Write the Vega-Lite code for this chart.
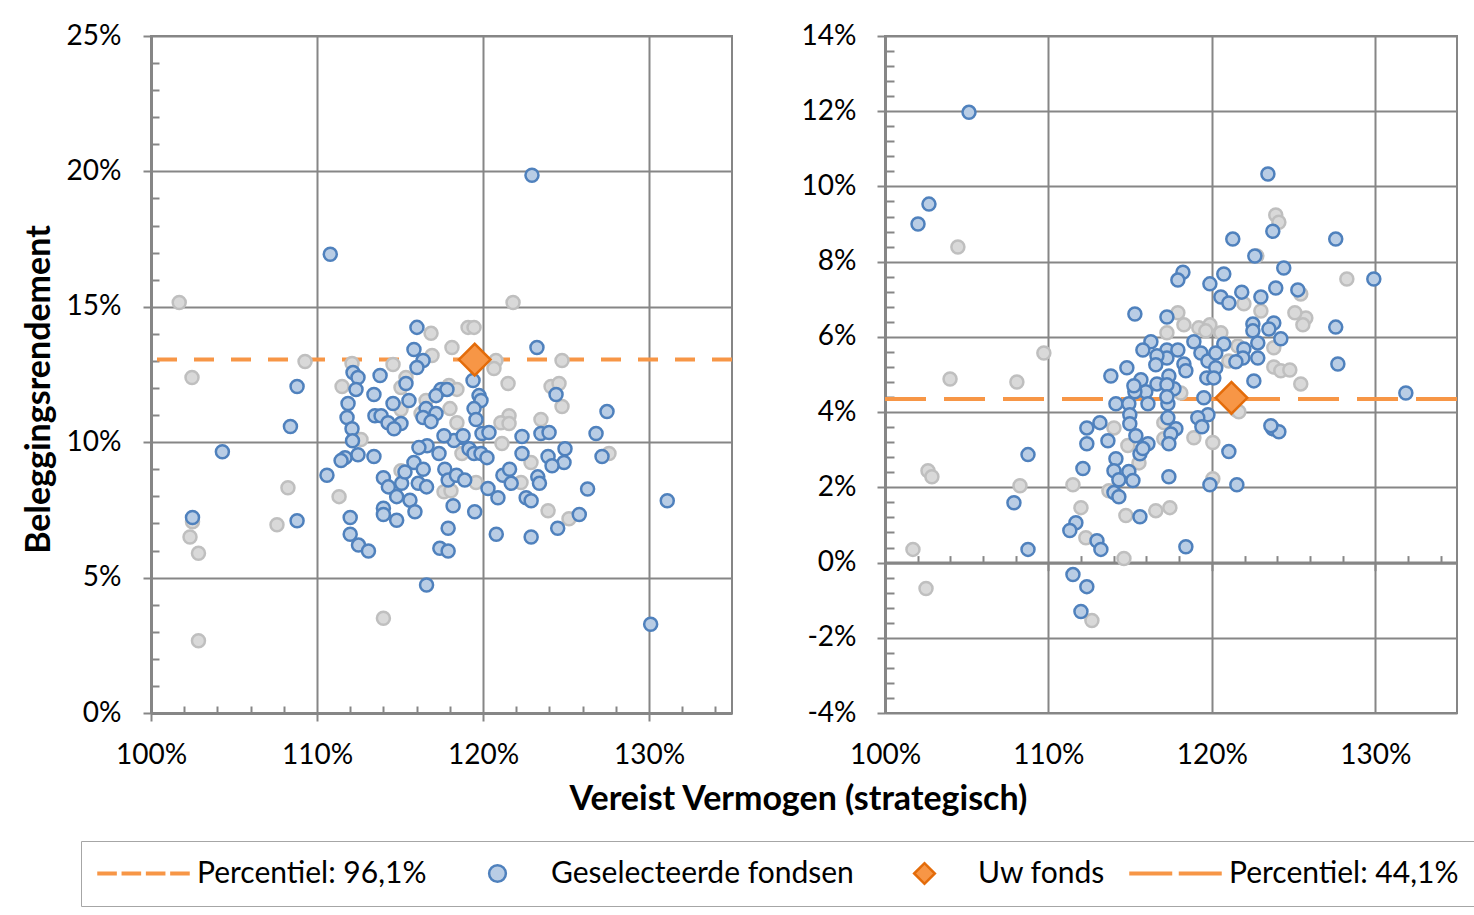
{
  "$schema": "https://vega.github.io/schema/vega-lite/v6.json",
  "padding": {"left": 21, "top": 21, "right": 5, "bottom": 5},
  "background": "#ffffff",
  "bounds": "flush",
  "spacing": 153,
  "config": {
    "font": "Lato",
    "view": {"stroke": "#868686", "strokeWidth": 2},
    "axis": {
      "labelFont": "Lato", "labelFontSize": 28, "labelColor": "#000000",
      "tickColor": "#868686", "tickWidth": 2,
      "domainColor": "#868686", "domainWidth": 3,
      "gridColor": "#868686", "gridWidth": 2,
      "titleFont": "Lato", "titleColor": "#000000",
      "labelFlush": false, "labelOverlap": false
    },
    "legend": {
      "title": null, "orient": "none", "legendX": -70, "legendY": 805,
      "direction": "horizontal", "columns": 4, "symbolSize": 8100, "symbolStrokeWidth": 2.5, "clipHeight": 33,
      "labelFont": "Lato", "labelFontSize": 30, "labelColor": "#000000", "labelOffset": 7, "labelLimit": 600,
      "columnPadding": 24, "padding": 16, "strokeColor": "#a6a6a6", "fillColor": "#ffffff", "symbolOpacity": 1
    }
  },
  "datasets": {
    "leftPct": [{"y": 13.05}],
    "rightPct": [{"y": 4.35}],
    "leftFund": [{"x": 119.5, "y": 13.05}],
    "rightFund": [{"x": 121.2, "y": 4.38}],
    "leftGray": [
      {"x": 101.7, "y": 15.16}, {"x": 102.47, "y": 12.39}, {"x": 109.28, "y": 12.98}, {"x": 112.11, "y": 12.91},
      {"x": 111.51, "y": 12.06}, {"x": 114.58, "y": 12.87}, {"x": 116.87, "y": 14.02}, {"x": 116.93, "y": 13.2},
      {"x": 119.1, "y": 14.24}, {"x": 119.46, "y": 14.24}, {"x": 118.13, "y": 13.5}, {"x": 120.78, "y": 13.02},
      {"x": 120.66, "y": 12.72}, {"x": 124.76, "y": 13.02}, {"x": 121.81, "y": 15.16}, {"x": 121.51, "y": 12.17},
      {"x": 124.1, "y": 12.06}, {"x": 124.58, "y": 12.17}, {"x": 124.76, "y": 11.32}, {"x": 117.95, "y": 12.09},
      {"x": 118.43, "y": 11.95}, {"x": 118.43, "y": 10.72}, {"x": 121.57, "y": 10.98}, {"x": 121.08, "y": 10.72},
      {"x": 123.49, "y": 10.84}, {"x": 121.14, "y": 9.95}, {"x": 122.89, "y": 9.25}, {"x": 127.59, "y": 9.58},
      {"x": 118.73, "y": 9.58}, {"x": 115.06, "y": 12.02}, {"x": 115.36, "y": 12.39}, {"x": 118.01, "y": 11.24},
      {"x": 116.57, "y": 11.54}, {"x": 116.27, "y": 11.06}, {"x": 112.65, "y": 10.1}, {"x": 115.06, "y": 11.21},
      {"x": 108.25, "y": 8.32}, {"x": 107.59, "y": 6.95}, {"x": 111.33, "y": 7.99}, {"x": 115.06, "y": 8.95},
      {"x": 117.65, "y": 8.17}, {"x": 118.07, "y": 8.21}, {"x": 119.58, "y": 8.51}, {"x": 121.57, "y": 10.69},
      {"x": 122.29, "y": 8.51}, {"x": 123.92, "y": 7.47}, {"x": 125.18, "y": 7.17}, {"x": 102.5, "y": 7.06},
      {"x": 102.35, "y": 6.5}, {"x": 102.86, "y": 5.9}, {"x": 114.0, "y": 3.5}, {"x": 102.86, "y": 2.67}
    ],
    "leftBlue": [
      {"x": 110.8, "y": 16.94}, {"x": 122.95, "y": 19.86}, {"x": 123.25, "y": 13.5}, {"x": 108.8, "y": 12.06},
      {"x": 108.4, "y": 10.58}, {"x": 104.3, "y": 9.65}, {"x": 131.1, "y": 7.84}, {"x": 130.1, "y": 3.28},
      {"x": 116.6, "y": 4.73}, {"x": 102.5, "y": 7.22}, {"x": 108.8, "y": 7.1},
      {"x": 116.02, "y": 14.24}, {"x": 115.84, "y": 13.42}, {"x": 116.39, "y": 13.02}, {"x": 116.02, "y": 12.76},
      {"x": 115.36, "y": 12.17}, {"x": 115.54, "y": 11.54}, {"x": 116.57, "y": 11.24}, {"x": 117.17, "y": 11.06},
      {"x": 117.47, "y": 11.95}, {"x": 117.83, "y": 11.95}, {"x": 117.17, "y": 11.72}, {"x": 119.4, "y": 12.28},
      {"x": 119.76, "y": 11.72}, {"x": 119.88, "y": 11.54}, {"x": 119.46, "y": 11.24}, {"x": 119.58, "y": 10.84},
      {"x": 119.94, "y": 10.32}, {"x": 120.36, "y": 10.36}, {"x": 118.73, "y": 10.17}, {"x": 118.25, "y": 10.06},
      {"x": 117.65, "y": 10.24}, {"x": 117.35, "y": 9.58}, {"x": 116.63, "y": 9.87}, {"x": 116.14, "y": 9.8},
      {"x": 115.84, "y": 9.25}, {"x": 119.16, "y": 9.76}, {"x": 119.46, "y": 9.58}, {"x": 119.88, "y": 9.58},
      {"x": 120.24, "y": 9.43}, {"x": 122.35, "y": 10.21}, {"x": 123.49, "y": 10.32}, {"x": 123.98, "y": 10.36},
      {"x": 124.4, "y": 11.76}, {"x": 127.47, "y": 11.13}, {"x": 126.81, "y": 10.32}, {"x": 124.94, "y": 9.76},
      {"x": 123.92, "y": 9.47}, {"x": 124.88, "y": 9.25}, {"x": 127.17, "y": 9.47}, {"x": 122.35, "y": 9.58},
      {"x": 124.16, "y": 9.13}, {"x": 112.17, "y": 12.57}, {"x": 112.47, "y": 12.39}, {"x": 112.35, "y": 11.95},
      {"x": 113.8, "y": 12.46}, {"x": 113.43, "y": 11.76}, {"x": 111.87, "y": 11.43}, {"x": 114.58, "y": 11.43},
      {"x": 111.81, "y": 10.91}, {"x": 112.11, "y": 10.5}, {"x": 113.49, "y": 10.98}, {"x": 113.86, "y": 10.98},
      {"x": 114.28, "y": 10.72}, {"x": 115.06, "y": 10.69}, {"x": 114.64, "y": 10.5}, {"x": 116.39, "y": 10.91},
      {"x": 116.87, "y": 10.76}, {"x": 118.8, "y": 10.24}, {"x": 112.14, "y": 10.05}, {"x": 111.69, "y": 9.43},
      {"x": 111.45, "y": 9.32}, {"x": 112.47, "y": 9.54}, {"x": 113.43, "y": 9.47},
      {"x": 110.6, "y": 8.78}, {"x": 112.0, "y": 7.22}, {"x": 112.0, "y": 6.6}, {"x": 112.5, "y": 6.2},
      {"x": 113.1, "y": 5.98}, {"x": 114.0, "y": 8.69}, {"x": 114.3, "y": 8.35}, {"x": 114.0, "y": 7.56},
      {"x": 114.0, "y": 7.33}, {"x": 114.8, "y": 7.12}, {"x": 115.1, "y": 8.48}, {"x": 115.3, "y": 8.9},
      {"x": 115.6, "y": 7.86}, {"x": 115.9, "y": 7.43}, {"x": 116.4, "y": 9.0}, {"x": 116.1, "y": 8.48},
      {"x": 116.6, "y": 8.35}, {"x": 117.7, "y": 9.0}, {"x": 117.9, "y": 8.6}, {"x": 118.4, "y": 8.78},
      {"x": 118.9, "y": 8.6}, {"x": 118.2, "y": 7.65}, {"x": 117.9, "y": 6.82}, {"x": 117.4, "y": 6.08},
      {"x": 117.9, "y": 5.98}, {"x": 119.5, "y": 7.43}, {"x": 120.3, "y": 8.29}, {"x": 120.9, "y": 7.95},
      {"x": 121.2, "y": 8.78}, {"x": 121.6, "y": 9.0}, {"x": 121.7, "y": 8.48}, {"x": 122.6, "y": 7.95},
      {"x": 122.9, "y": 7.84}, {"x": 120.8, "y": 6.6}, {"x": 122.9, "y": 6.5}, {"x": 123.3, "y": 8.72},
      {"x": 123.4, "y": 8.48}, {"x": 124.5, "y": 6.82}, {"x": 125.8, "y": 7.33}, {"x": 126.3, "y": 8.27},
      {"x": 114.8, "y": 7.99}
    ],
    "rightGray": [
      {"x": 104.46, "y": 8.39}, {"x": 103.98, "y": 4.88}, {"x": 108.07, "y": 4.8}, {"x": 102.63, "y": 2.44},
      {"x": 102.87, "y": 2.28}, {"x": 108.26, "y": 2.04}, {"x": 101.71, "y": 0.35}, {"x": 102.51, "y": -0.69},
      {"x": 109.72, "y": 5.57}, {"x": 111.5, "y": 2.07}, {"x": 111.99, "y": 1.46}, {"x": 112.29, "y": 0.66},
      {"x": 114.74, "y": 1.25}, {"x": 116.57, "y": 1.38}, {"x": 117.43, "y": 1.46}, {"x": 114.62, "y": 0.11},
      {"x": 112.66, "y": -1.54}, {"x": 117.92, "y": 6.64}, {"x": 118.29, "y": 6.32}, {"x": 117.25, "y": 6.11},
      {"x": 119.2, "y": 6.24}, {"x": 119.88, "y": 6.32}, {"x": 120.55, "y": 6.11}, {"x": 119.63, "y": 6.16},
      {"x": 121.04, "y": 5.36}, {"x": 121.59, "y": 5.76}, {"x": 123.79, "y": 5.2}, {"x": 121.96, "y": 6.88},
      {"x": 123.0, "y": 6.69}, {"x": 123.79, "y": 5.71}, {"x": 118.1, "y": 4.51}, {"x": 121.47, "y": 4.06},
      {"x": 117.06, "y": 3.72}, {"x": 114.01, "y": 3.58}, {"x": 114.86, "y": 3.11}, {"x": 115.54, "y": 2.65},
      {"x": 117.06, "y": 3.29}, {"x": 118.9, "y": 3.32}, {"x": 120.06, "y": 3.19}, {"x": 120.06, "y": 2.23},
      {"x": 113.7, "y": 1.91}, {"x": 123.91, "y": 9.24}, {"x": 124.1, "y": 9.05}, {"x": 122.75, "y": 8.15},
      {"x": 128.26, "y": 7.54}, {"x": 125.44, "y": 7.14}, {"x": 125.75, "y": 6.5}, {"x": 125.57, "y": 6.32},
      {"x": 125.08, "y": 6.64}, {"x": 124.22, "y": 5.1}, {"x": 124.77, "y": 5.12}, {"x": 125.44, "y": 4.75},
      {"x": 121.65, "y": 4.01}
    ],
    "rightBlue": [
      {"x": 105.14, "y": 11.97}, {"x": 102.02, "y": 9.0}, {"x": 102.69, "y": 9.53}, {"x": 123.43, "y": 10.33},
      {"x": 123.73, "y": 8.81}, {"x": 121.28, "y": 8.6}, {"x": 127.58, "y": 8.6}, {"x": 122.63, "y": 8.15},
      {"x": 124.4, "y": 7.83}, {"x": 129.91, "y": 7.54}, {"x": 131.87, "y": 4.51}, {"x": 127.58, "y": 6.26},
      {"x": 127.71, "y": 5.28}, {"x": 125.26, "y": 7.25}, {"x": 123.73, "y": 3.56}, {"x": 124.1, "y": 3.48},
      {"x": 108.75, "y": 2.87}, {"x": 107.89, "y": 1.59}, {"x": 108.75, "y": 0.35}, {"x": 111.5, "y": -0.32},
      {"x": 112.35, "y": -0.64}, {"x": 111.99, "y": -1.3}, {"x": 111.68, "y": 1.06}, {"x": 111.31, "y": 0.85},
      {"x": 118.41, "y": 0.42},
      {"x": 118.23, "y": 7.72}, {"x": 117.92, "y": 7.51}, {"x": 120.73, "y": 7.67}, {"x": 119.88, "y": 7.41},
      {"x": 121.83, "y": 7.19}, {"x": 123.0, "y": 7.06}, {"x": 120.55, "y": 7.06}, {"x": 121.04, "y": 6.9},
      {"x": 123.91, "y": 7.3}, {"x": 115.29, "y": 6.61}, {"x": 117.25, "y": 6.53}, {"x": 122.51, "y": 6.34},
      {"x": 122.51, "y": 6.16}, {"x": 123.79, "y": 6.37}, {"x": 123.49, "y": 6.21}, {"x": 116.27, "y": 5.87},
      {"x": 115.78, "y": 5.65}, {"x": 118.9, "y": 5.87}, {"x": 120.73, "y": 5.81}, {"x": 121.96, "y": 5.68},
      {"x": 121.9, "y": 5.44}, {"x": 121.47, "y": 5.34}, {"x": 122.81, "y": 5.84}, {"x": 122.81, "y": 5.44},
      {"x": 124.22, "y": 5.95}, {"x": 117.25, "y": 5.65}, {"x": 117.92, "y": 5.65}, {"x": 117.25, "y": 5.44},
      {"x": 116.64, "y": 5.5}, {"x": 116.57, "y": 5.26}, {"x": 118.29, "y": 5.28}, {"x": 118.41, "y": 5.1},
      {"x": 119.33, "y": 5.57}, {"x": 119.76, "y": 5.36}, {"x": 120.24, "y": 5.57}, {"x": 120.24, "y": 5.18},
      {"x": 114.8, "y": 5.18}, {"x": 113.82, "y": 4.96}, {"x": 115.66, "y": 4.86}, {"x": 115.96, "y": 4.54},
      {"x": 115.29, "y": 4.54}, {"x": 115.23, "y": 4.7}, {"x": 116.64, "y": 4.75}, {"x": 117.37, "y": 4.96},
      {"x": 117.68, "y": 4.62}, {"x": 117.25, "y": 4.73}, {"x": 116.09, "y": 4.22}, {"x": 117.31, "y": 4.22},
      {"x": 117.25, "y": 4.41}, {"x": 114.13, "y": 4.22}, {"x": 114.92, "y": 4.22}, {"x": 114.98, "y": 3.93},
      {"x": 114.98, "y": 3.69}, {"x": 117.31, "y": 3.85}, {"x": 119.69, "y": 4.91}, {"x": 120.12, "y": 4.91},
      {"x": 119.51, "y": 4.38}, {"x": 119.76, "y": 3.93}, {"x": 119.14, "y": 3.85}, {"x": 122.57, "y": 4.83},
      {"x": 113.15, "y": 3.72}, {"x": 112.35, "y": 3.58}, {"x": 117.8, "y": 3.56}, {"x": 119.39, "y": 3.61},
      {"x": 123.61, "y": 3.64}, {"x": 112.35, "y": 3.16}, {"x": 113.64, "y": 3.24}, {"x": 115.35, "y": 3.37},
      {"x": 116.09, "y": 3.16}, {"x": 115.6, "y": 2.89}, {"x": 115.78, "y": 3.03}, {"x": 117.49, "y": 3.42},
      {"x": 117.37, "y": 3.16}, {"x": 121.04, "y": 2.95}, {"x": 114.13, "y": 2.76}, {"x": 114.01, "y": 2.44},
      {"x": 114.92, "y": 2.42}, {"x": 115.17, "y": 2.18}, {"x": 114.31, "y": 2.2}, {"x": 114.01, "y": 1.86},
      {"x": 114.31, "y": 1.75}, {"x": 117.37, "y": 2.28}, {"x": 119.88, "y": 2.07}, {"x": 121.53, "y": 2.07},
      {"x": 112.11, "y": 2.5}, {"x": 115.6, "y": 1.22}, {"x": 112.97, "y": 0.58}, {"x": 113.21, "y": 0.35}
    ]
  },
  "hconcat": [
    {
      "width": 581,
      "height": 677,
      "resolve": {"axis": {"x": "independent", "y": "independent"}},
      "layer": [
        {
          "data": {"name": "leftPct"},
          "mark": {"type": "rule", "color": "#f79646", "strokeWidth": 4, "strokeDash": [20, 17]},
          "encoding": {
            "y": {"field": "y", "type": "quantitative", "scale": {"domain": [0, 25], "nice": false, "zero": false}, "axis": null}
          }
        },
        {
          "data": {"name": "leftGray"},
          "mark": {"type": "point", "shape": "circle", "filled": true, "fill": "#d9d9d9", "stroke": "#bfbfbf", "strokeWidth": 2.5, "size": 169, "opacity": 1},
          "encoding": {
            "x": {
              "field": "x", "type": "quantitative",
              "scale": {"domain": [100, 135], "nice": false, "zero": false},
              "axis": {
                "orient": "bottom",
                "values": [100, 110, 120, 130], "labelExpr": "datum.value + '%'", "tickSize": 8, "grid": true,
                "domain": true, "labelPadding": 20,
                "title": "Vereist Vermogen (strategisch)", "titleFontSize": 34, "titleFontWeight": "bold",
                "titleX": 647, "titleY": 86, "titleBaseline": "middle", "titleAlign": "center"
              }
            },
            "y": {
              "field": "y", "type": "quantitative",
              "scale": {"domain": [0, 25], "nice": false, "zero": false},
              "axis": {
                "orient": "left",
                "values": [0, 5, 10, 15, 20, 25], "labelExpr": "datum.value + '%'", "tickSize": 8, "grid": true,
                "domain": true, "labelPadding": 22,
                "title": "Beleggingsrendement", "titleFontSize": 34, "titleFontWeight": "bold",
                "titleX": -112, "titleY": 353, "titleBaseline": "middle", "titleAlign": "center"
              }
            }
          }
        },
        {
          "data": {"name": "leftBlue"},
          "mark": {"type": "point", "filled": true, "strokeWidth": 2.5, "size": 4900, "opacity": 1},
          "encoding": {
            "x": {
              "field": "x", "type": "quantitative",
              "scale": {"domain": [100, 135], "nice": false, "zero": false},
              "axis": {"orient": "bottom", "values": [102, 104, 106, 108, 112, 114, 116, 118, 122, 124, 126, 128, 132, 134], "labels": false, "tickSize": -7, "grid": false, "domain": false, "title": null}
            },
            "y": {
              "field": "y", "type": "quantitative",
              "scale": {"domain": [0, 25], "nice": false, "zero": false},
              "axis": {"orient": "left", "values": [1, 2, 3, 4, 6, 7, 8, 9, 11, 12, 13, 14, 16, 17, 18, 19, 21, 22, 23, 24], "labels": false, "tickSize": -8, "grid": false, "domain": false, "title": null}
            },
            "color": {
              "datum": "Geselecteerde fondsen", "type": "nominal",
              "scale": {
                "domain": ["Percentiel: 96,1%", "Geselecteerde fondsen", "Uw fonds", "Percentiel: 44,1%"],
                "range": ["transparent", "#b9cde5", "#f79646", "transparent"]
              }
            },
            "stroke": {
              "datum": "Geselecteerde fondsen", "type": "nominal",
              "scale": {
                "domain": ["Percentiel: 96,1%", "Geselecteerde fondsen", "Uw fonds", "Percentiel: 44,1%"],
                "range": ["#f79646", "#4f81bd", "#e46c0a", "#f79646"]
              }
            },
            "shape": {
              "datum": "Geselecteerde fondsen", "type": "nominal",
              "scale": {
                "domain": ["Percentiel: 96,1%", "Geselecteerde fondsen", "Uw fonds", "Percentiel: 44,1%"],
                "range": [
                  "M-1,-0.015H-0.62V0.015H-1ZM-0.46,-0.015H-0.08V0.015H-0.46ZM0.08,-0.015H0.46V0.015H0.08ZM0.62,-0.015H1V0.015H0.62Z",
                  "M-0.186,0A0.186,0.186,0,1,1,0.186,0A0.186,0.186,0,1,1,-0.186,0Z",
                  "M-0.23,0L0,-0.23L0.23,0L0,0.23Z",
                  "M-1,-0.015H-0.1V0.015H-1ZM0.1,-0.015H1V0.015H0.1Z"
                ]
              }
            }
          }
        },
        {
          "data": {"name": "leftFund"},
          "mark": {"type": "point", "shape": "diamond", "filled": true, "fill": "#f79646", "stroke": "#e46c0a", "strokeWidth": 2.5, "size": 1000, "opacity": 1},
          "encoding": {
            "x": {"field": "x", "type": "quantitative", "scale": {"domain": [100, 135], "nice": false, "zero": false}, "axis": null},
            "y": {"field": "y", "type": "quantitative", "scale": {"domain": [0, 25], "nice": false, "zero": false}, "axis": null}
          }
        }
      ]
    },
    {
      "width": 572,
      "height": 677,
      "resolve": {"axis": {"x": "independent", "y": "independent"}},
      "layer": [
        {
          "data": {"name": "rightPct"},
          "mark": {"type": "rule", "color": "#f79646", "strokeWidth": 4, "strokeDash": [41, 18]},
          "encoding": {
            "y": {"field": "y", "type": "quantitative", "scale": {"domain": [-4, 14], "nice": false, "zero": false}, "axis": null}
          }
        },
        {
          "data": {"name": "rightGray"},
          "mark": {"type": "point", "shape": "circle", "filled": true, "fill": "#d9d9d9", "stroke": "#bfbfbf", "strokeWidth": 2.5, "size": 169, "opacity": 1},
          "encoding": {
            "x": {
              "field": "x", "type": "quantitative",
              "scale": {"domain": [100, 135], "nice": false, "zero": false},
              "axis": {"orient": "bottom", "values": [100, 110, 120, 130], "labelExpr": "datum.value + '%'", "ticks": false, "domain": false, "grid": true, "labelPadding": 28, "title": null}
            },
            "y": {
              "field": "y", "type": "quantitative",
              "scale": {"domain": [-4, 14], "nice": false, "zero": false},
              "axis": {"orient": "left", "values": [-4, -2, 0, 2, 4, 6, 8, 10, 12, 14], "labelExpr": "datum.value + '%'", "tickSize": 8, "grid": true, "domain": true, "labelPadding": 21, "title": null}
            }
          }
        },
        {
          "data": {"name": "rightBlue"},
          "mark": {"type": "point", "shape": "circle", "filled": true, "fill": "#b9cde5", "stroke": "#4f81bd", "strokeWidth": 2.5, "size": 169, "opacity": 1},
          "encoding": {
            "x": {
              "field": "x", "type": "quantitative",
              "scale": {"domain": [100, 135], "nice": false, "zero": false},
              "axis": {"orient": "bottom", "values": [102, 104, 106, 108, 112, 114, 116, 118, 122, 124, 126, 128, 132, 134], "labels": false, "tickSize": -7, "grid": false, "domain": true, "domainWidth": 3, "offset": -150.4, "title": null}
            },
            "y": {
              "field": "y", "type": "quantitative",
              "scale": {"domain": [-4, 14], "nice": false, "zero": false},
              "axis": {"orient": "left", "values": [-3.6, -3.2, -2.8, -2.4, -1.6, -1.2, -0.8, -0.4, 0.4, 0.8, 1.2, 1.6, 2.4, 2.8, 3.2, 3.6, 4.4, 4.8, 5.2, 5.6, 6.4, 6.8, 7.2, 7.6, 8.4, 8.8, 9.2, 9.6, 10.4, 10.8, 11.2, 11.6, 12.4, 12.8, 13.2, 13.6], "labels": false, "tickSize": -9, "grid": false, "domain": false, "title": null}
            }
          }
        },
        {
          "data": {"name": "rightFund"},
          "mark": {"type": "point", "shape": "diamond", "filled": true, "fill": "#f79646", "stroke": "#e46c0a", "strokeWidth": 2.5, "size": 1000, "opacity": 1},
          "encoding": {
            "x": {
              "field": "x", "type": "quantitative",
              "scale": {"domain": [100, 135], "nice": false, "zero": false},
              "axis": {"orient": "bottom", "values": [100, 110, 120, 130], "labels": false, "tickSize": 8, "grid": false, "domain": false, "offset": -150.4, "title": null}
            },
            "y": {"field": "y", "type": "quantitative", "scale": {"domain": [-4, 14], "nice": false, "zero": false}, "axis": null}
          }
        }
      ]
    }
  ]
}
